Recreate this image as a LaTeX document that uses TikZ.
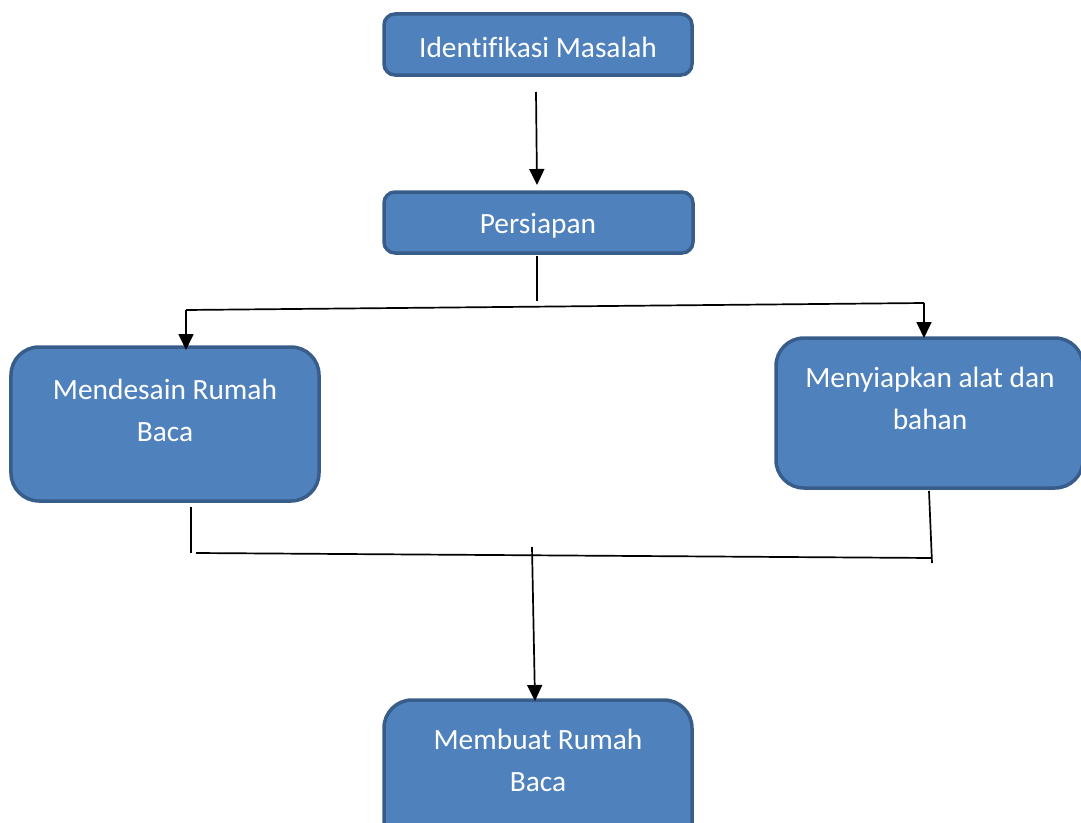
\documentclass[tikz,border=0pt]{standalone}
\usepackage{fontspec}
\setmainfont[Ligatures=NoCommon]{Carlito}
\usetikzlibrary{arrows.meta}
\definecolor{boxfill}{HTML}{4F81BD}
\definecolor{boxline}{HTML}{385D8A}
\tikzset{
  box/.style={draw=boxline, fill=boxfill, line width=3.5bp, inner sep=0pt},
  small/.style={box, rounded corners=11bp},
  big/.style={box, rounded corners=28bp},
  lbl/.style={text=white, align=center, font=\fontsize{29.5}{42}\selectfont, inner sep=0pt},
  conn/.style={line width=1.7bp, black},
  arr/.style={conn, -{Triangle[width=15bp,length=16bp]}}
}
\begin{document}
\begin{tikzpicture}[x=1bp,y=-1bp]
\useasboundingbox (0,0) rectangle (1081,823);
\clip (0,0) rectangle (1081,823);
% boxes
\node[small, minimum width=308bp, minimum height=61bp] (ident) at (538,44.5) {};
\node[small, minimum width=309bp, minimum height=61bp] (prep) at (538.5,222.5) {};
\node[big, minimum width=308bp, minimum height=154bp] (design) at (165,424) {};
\node[big, minimum width=307bp, minimum height=150bp] (tools) at (929.5,413) {};
\node[big, minimum width=308bp, minimum height=160bp] (build) at (538,780) {};
% labels
\node[lbl] (tident) at (538,47) {Identifikasi Masalah};
\node[lbl] (tprep) at (538,226) {Persiapan};
\node[lbl] (tdesign) at (165,410) {Mendesain Rumah\\Baca};
\node[lbl] (ttools) at (930,398) {Menyiapkan alat dan\\bahan};
\node[lbl] (tbuild) at (538,760) {Membuat Rumah\\Baca};
% junction coordinates
\coordinate (a1) at (536,92);
\coordinate (a2) at (537,185);
\coordinate (p1) at (537,256);
\coordinate (p2) at (537,301);
\coordinate (hl) at (186,310);
\coordinate (hr) at (924,303);
\coordinate (dl) at (186,350);
\coordinate (dr) at (924,338);
\coordinate (l1) at (191,507);
\coordinate (l2) at (191,553);
\coordinate (m1) at (196,553);
\coordinate (m2) at (932,558);
\coordinate (r1) at (929,491);
\coordinate (r2) at (932,563);
\coordinate (c1) at (532,547);
\coordinate (c2) at (535,701);
% connectors
\draw[arr] (a1) -- (a2);
\draw[conn] (p1) -- (p2);
\draw[conn] (hl) -- (hr);
\draw[arr] (hl) -- (dl);
\draw[arr] (hr) -- (dr);
\draw[conn] (l1) -- (l2);
\draw[conn] (m1) -- (m2);
\draw[conn] (r1) -- (r2);
\draw[arr] (c1) -- (c2);
\end{tikzpicture}
\end{document}
